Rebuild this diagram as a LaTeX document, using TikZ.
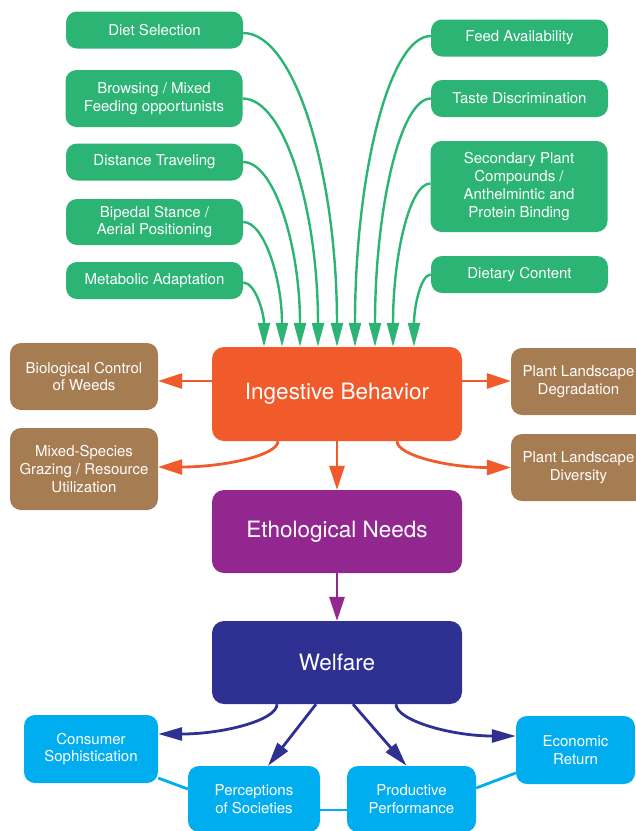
\documentclass[tikz,border=0pt]{standalone}
\usepackage{fontspec}
\setmainfont{TeX Gyre Heros}
\usetikzlibrary{arrows.meta}
\definecolor{leafgreen}{HTML}{2BB473}
\definecolor{soilbrown}{HTML}{A67C52}
\definecolor{flameorange}{HTML}{F15A2B}
\definecolor{grapepurple}{HTML}{92278F}
\definecolor{navyblue}{HTML}{2E3192}
\definecolor{skyblue}{HTML}{00AEEF}

\begin{document}
\begin{tikzpicture}[x=1pt, y=-1pt,
        factornode/.style={rounded corners=11pt, fill=leafgreen, text=white, inner sep=0pt, align=center, minimum width=177pt, minimum height=37pt, font=\fontsize{15}{17.7}\selectfont},
        effectnode/.style={rounded corners=11pt, fill=soilbrown, text=white, inner sep=0pt, align=center, minimum width=148pt, minimum height=67pt, font=\fontsize{15}{17.7}\selectfont},
        corenode/.style={rounded corners=12pt, text=white, inner sep=0pt, minimum width=250pt, minimum height=83pt, font=\fontsize{22.5}{26}\selectfont},
        outcomenode/.style={rounded corners=11pt, fill=skyblue, text=white, inner sep=0pt, align=center, minimum height=67pt, font=\fontsize{15}{17.7}\selectfont},
        factorarrow/.style={draw=leafgreen, line width=2.4pt, -{Triangle[width=12pt,length=24pt]}},
        effectarrow/.style={draw=flameorange, line width=2.8pt, -{Triangle[width=15pt,length=24pt]}},
        needarrow/.style={draw=grapepurple, line width=2.8pt, -{Triangle[width=15pt,length=24pt]}},
        welfarearrow/.style={draw=navyblue, line width=2.8pt, -{Triangle[width=13pt,length=24pt]}},
        linkline/.style={draw=skyblue, line width=2.8pt},
]
        \useasboundingbox (0,0) rectangle (636,831);
        \clip (0,0) rectangle (636,831);

        % left factors
        \node[factornode] (diet) at (154.5,30) {Diet Selection};
        \node[factornode, minimum height=57pt] (browsing) at (154,98.5) {Browsing / Mixed\\Feeding opportunists};
        \node[factornode] (distance) at (154.5,162) {Distance Traveling};
        \node[factornode, minimum height=46pt] (bipedal) at (154.5,222) {Bipedal Stance /\\Aerial Positioning};
        \node[factornode] (metabolic) at (154.5,280.5) {Metabolic Adaptation};

        % right factors
        \node[factornode] (feed) at (519.5,38) {Feed Availability};
        \node[factornode] (taste) at (519.5,98.5) {Taste Discrimination};
        \node[factornode, minimum height=91pt] (secondary) at (519,186.5) {Secondary Plant\\Compounds /\\Anthelmintic and\\Protein Binding};
        \node[factornode] (dietary) at (519.5,274.5) {Dietary Content};

        % core chain
        \node[corenode, fill=flameorange, minimum height=94pt] (ingestive) at (337,394) {Ingestive Behavior};
        \node[corenode, fill=grapepurple] (ethological) at (337,531.5) {Ethological Needs};
        \node[corenode, fill=navyblue] (welfare) at (337,662.5) {Welfare};

        % effects
        \node[effectnode] (biocontrol) at (84,376.5) {Biological Control\\of Weeds};
        \node[effectnode, minimum height=82pt] (mixedspecies) at (84,469) {Mixed-Species\\Grazing / Resource\\Utilization};
        \node[effectnode, minimum width=135pt] (degradation) at (578.5,381.5) {Plant Landscape\\Degradation};
        \node[effectnode, minimum width=135pt] (diversity) at (578.5,467.5) {Plant Landscape\\Diversity};

        % outcomes
        \node[outcomenode, minimum width=134pt, minimum height=68pt] (consumer) at (91,749) {Consumer\\Sophistication};
        \node[outcomenode, minimum width=132pt, minimum height=66pt] (perceptions) at (254,799) {Perceptions\\of Societies};
        \node[outcomenode, minimum width=129pt, minimum height=66pt] (productive) at (411.5,799) {Productive\\Performance};
        \node[outcomenode, minimum width=119pt, minimum height=68pt] (economic) at (575.5,750) {Economic\\Return};

        \draw[linkline] ([yshift=-29pt]consumer.east) -- ([yshift=10pt]perceptions.west);
        \draw[linkline] ([yshift=-11pt]perceptions.east) -- ([yshift=-11pt]productive.west);
        \draw[linkline] ([yshift=11pt]productive.east) -- ([yshift=-23pt]economic.west);

        % factors into ingestive behavior
        \draw[factorarrow] ([yshift=-3pt]diet.east) to[out=0, in=90, out distance=52pt, in distance=172pt] ([xshift=0pt]ingestive.north);
        \draw[factorarrow] (browsing.east) to[out=0, in=90, out distance=42pt, in distance=136pt] ([xshift=-19pt]ingestive.north);
        \draw[factorarrow] (distance.east) to[out=0, in=90, out distance=31pt, in distance=101pt] ([xshift=-37pt]ingestive.north);
        \draw[factorarrow] (bipedal.east) to[out=0, in=90, out distance=21pt, in distance=68pt] ([xshift=-55pt]ingestive.north);
        \draw[factorarrow] ([yshift=-2pt]metabolic.east) to[out=0, in=90, out distance=12pt, in distance=34pt] ([xshift=-73pt]ingestive.north);
        \draw[factorarrow] ([yshift=2pt]feed.west) to[out=180, in=90, out distance=42pt, in distance=170pt] ([xshift=18pt]ingestive.north);
        \draw[factorarrow] (taste.west) to[out=180, in=90, out distance=31pt, in distance=136pt] ([xshift=38pt]ingestive.north);
        \draw[factorarrow] ([yshift=3pt]secondary.west) to[out=180, in=90, out distance=21pt, in distance=90pt] ([xshift=56pt]ingestive.north);
        \draw[factorarrow] (dietary.west) to[out=180, in=90, out distance=10pt, in distance=40pt] ([xshift=77pt]ingestive.north);

        % ingestive behavior effects
        \draw[effectarrow] ([yshift=13pt]ingestive.west) -- ([yshift=13pt]ingestive.west -| biocontrol.east);
        \draw[effectarrow] ([yshift=13pt]ingestive.east) -- ([yshift=13pt]ingestive.east -| degradation.west);
        \draw[effectarrow] ([xshift=-59pt]ingestive.south) to[out=270, in=0, out distance=14pt, in distance=66pt] ([yshift=2pt]mixedspecies.east);
        \draw[effectarrow] ([xshift=60pt]ingestive.south) to[out=270, in=180, out distance=14pt, in distance=63pt] (diversity.west);
        \draw[effectarrow] (ingestive.south) -- (ethological.north);

        \draw[needarrow] (ethological.south) -- (welfare.north);

        % welfare outcomes
        \draw[welfarearrow] ([xshift=-60pt]welfare.south) to[out=270, in=0, out distance=16pt, in distance=65pt] ([yshift=15pt]consumer.east);
        \draw[welfarearrow] ([xshift=-21pt]welfare.south) -- ([xshift=14pt]perceptions.north);
        \draw[welfarearrow] ([xshift=16pt]welfare.south) -- ([xshift=-5pt]productive.north);
        \draw[welfarearrow] ([xshift=59pt]welfare.south) to[out=270, in=180, out distance=16pt, in distance=65pt] ([yshift=14pt]economic.west);
\end{tikzpicture}
\end{document}
